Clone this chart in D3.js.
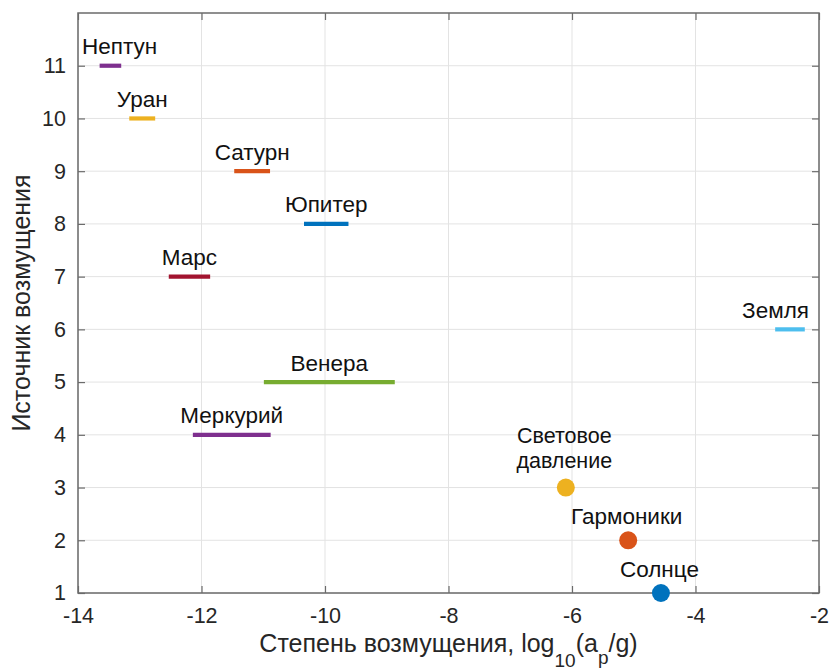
<!DOCTYPE html>
<html>
<head>
<meta charset="utf-8">
<script src="https://cdn.jsdelivr.net/npm/d3@7"></script>
<style>
  html, body { margin: 0; padding: 0; background: #fff; }
  svg { display: block; font-family: "Liberation Sans", Arial, Helvetica, sans-serif; }
</style>
</head>
<body>
<svg id="chart" width="831" height="671"></svg>
<script>
// Perturbation sources: planets drawn as ranges, other sources as points
const barNames  = ["Нептун", "Уран", "Сатурн", "Юпитер", "Марс", "Земля", "Венера", "Меркурий"];
const barLevels = [11, 10, 9, 8, 7, 6, 5, 4];
const barFrom   = [-13.65, -13.17, -11.47, -10.34, -12.53, -2.71, -10.99, -12.14];
const barTo     = [-13.30, -12.75, -10.89, -9.62, -11.86, -2.23, -8.87, -10.88];
const barColors = ["#7E2F8E", "#EDB120", "#D95319", "#0072BD", "#A2142F", "#4DBEEE", "#77AC30", "#7E2F8E"];

const dotNames  = [["Световое", "давление"], ["Гармоники"], ["Солнце"]];
const dotLevels = [3, 2, 1];
const dotValues = [-6.10, -5.09, -4.56];
const dotColors = ["#EDB120", "#D95319", "#0072BD"];

const xTicks = [-14, -12, -10, -8, -6, -4, -2];
const yTicks = [1, 2, 3, 4, 5, 6, 7, 8, 9, 10, 11];

const margin = { left: 78, right: 12, top: 13, bottom: 78 };
const W = 831, H = 671;
const svg = d3.select("#chart");

const x = d3.scaleLinear().domain([-14, -2]).range([margin.left, W - margin.right]);
const y = d3.scaleLinear().domain([1, 12]).range([H - margin.bottom, margin.top]);

const x0 = x.range()[0], x1 = x.range()[1];
const y0 = y.range()[0], y1 = y.range()[1];

// grid
const grid = svg.append("g").attr("stroke", "#e3e3e3").attr("stroke-width", 1);
grid.selectAll(".gx").data(xTicks).join("line")
  .attr("x1", d => x(d)).attr("x2", d => x(d)).attr("y1", y1).attr("y2", y0);
grid.selectAll(".gy").data(yTicks).join("line")
  .attr("x1", x0).attr("x2", x1).attr("y1", d => y(d)).attr("y2", d => y(d));

// axes with inward ticks
const tickColor = "#6b6b6b";
const xAxis = svg.append("g").attr("transform", `translate(0,${y0})`)
  .call(d3.axisBottom(x).tickValues(xTicks).tickSizeInner(-7).tickSizeOuter(0).tickPadding(15)
    .tickFormat(d => d < 0 ? "-" + Math.abs(d) : d));
const yAxis = svg.append("g").attr("transform", `translate(${x0},0)`)
  .call(d3.axisLeft(y).tickValues(yTicks).tickSizeInner(-7).tickSizeOuter(0).tickPadding(12));
const xTop = svg.append("g").attr("transform", `translate(0,${y1})`)
  .call(d3.axisTop(x).tickValues(xTicks).tickSizeInner(-7).tickSizeOuter(0).tickFormat(""));
const yRight = svg.append("g").attr("transform", `translate(${x1},0)`)
  .call(d3.axisRight(y).tickValues(yTicks).tickSizeInner(-7).tickSizeOuter(0).tickFormat(""));

[xAxis, yAxis, xTop, yRight].forEach(g => {
  g.select(".domain").remove();
  g.attr("font-size", 21.5).attr("font-family", "\"Liberation Sans\", Arial, sans-serif");
  g.selectAll(".tick line").attr("stroke", tickColor).attr("stroke-width", 1.2);
  g.selectAll(".tick text").attr("fill", "#262626").attr("font-size", 21.5);
});

// frame
svg.append("rect").attr("x", x0).attr("y", y1).attr("width", x1 - x0).attr("height", y0 - y1)
  .attr("fill", "none").attr("stroke", tickColor).attr("stroke-width", 1.5);

// range bars
const bars = barNames.map((n, i) => ({ name: n, level: barLevels[i], from: barFrom[i], to: barTo[i], color: barColors[i] }));
svg.append("g").selectAll("line").data(bars).join("line")
  .attr("x1", d => x(d.from)).attr("x2", d => x(d.to))
  .attr("y1", d => y(d.level)).attr("y2", d => y(d.level))
  .attr("stroke", d => d.color).attr("stroke-width", 4.2);

// names centred over their bars, kept inside the frame
svg.append("g").selectAll("text").data(bars).join("text")
  .attr("x", d => x((d.from + d.to) / 2)).attr("y", d => y(d.level) - 11.5)
  .attr("text-anchor", "middle").attr("font-size", 22.5).attr("fill", "#111")
  .text(d => d.name)
  .each(function (d) {
    const half = this.getComputedTextLength() / 2;
    const cx = x((d.from + d.to) / 2);
    const lo = x0 + 4 + half, hi = x1 - 10 - half;
    d3.select(this).attr("x", Math.max(lo, Math.min(hi, cx)));
  });

// point sources
const lineGap = 25;
const dots = dotNames.map((n, i) => ({ lines: n, level: dotLevels[i], value: dotValues[i], color: dotColors[i] }));
svg.append("g").selectAll("circle").data(dots).join("circle")
  .attr("cx", d => x(d.value)).attr("cy", d => y(d.level)).attr("r", 9)
  .attr("fill", d => d.color);
const dl = svg.append("g").selectAll("text").data(dots).join("text")
  .attr("text-anchor", "middle").attr("font-size", d => d.lines.length > 1 ? 21.5 : 22.5).attr("fill", "#111")
  .attr("x", d => x(d.value) - 1.5)
  .attr("y", d => y(d.level) - 16 - (d.lines.length - 1) * (lineGap + 4));
dl.selectAll("tspan").data(d => d.lines.map(t => ({ t, xv: x(d.value) - 1.5 }))).join("tspan")
  .attr("x", d => d.xv).attr("dy", (d, i) => i ? lineGap : 0).text(d => d.t);

// axis titles
const xt = svg.append("text").attr("x", (x0 + x1) / 2).attr("y", 652)
  .attr("text-anchor", "middle").attr("font-size", 25).attr("fill", "#262626");
xt.append("tspan").text("Степень возмущения, log");
xt.append("tspan").attr("font-size", 19).attr("dy", 15).text("10");
xt.append("tspan").attr("dy", -15).text("(a");
xt.append("tspan").attr("font-size", 19).attr("dy", 12).text("p");
xt.append("tspan").attr("dy", -12).text("/g)");

svg.append("text").attr("transform", `translate(30,${(y0 + y1) / 2}) rotate(-90)`)
  .attr("text-anchor", "middle").attr("font-size", 25).attr("fill", "#262626")
  .text("Источник возмущения");
</script>
</body>
</html>
